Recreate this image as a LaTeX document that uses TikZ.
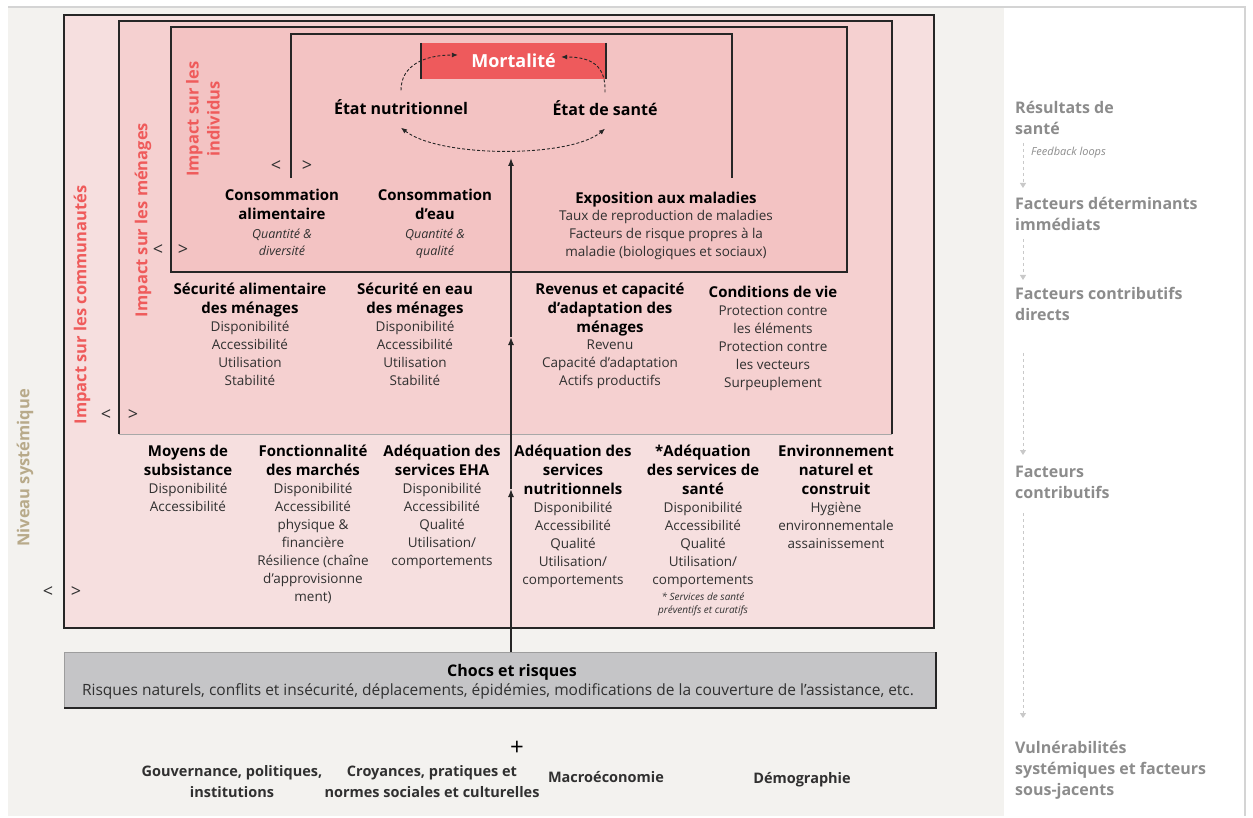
\documentclass[tikz,border=0pt]{standalone}
\usepackage{fontspec}
\setmainfont{Open Sans}
\usetikzlibrary{arrows.meta, positioning}

\definecolor{bggrey}{HTML}{F3F2EF}
\definecolor{framegrey}{HTML}{D4D4D4}
\definecolor{commfill}{HTML}{F6DFDF}
\definecolor{menfill}{HTML}{F5D0D0}
\definecolor{indfill}{HTML}{F3C3C3}
\definecolor{mortred}{HTML}{EE5A5C}
\definecolor{impactred}{HTML}{EF5B5B}
\definecolor{systan}{HTML}{B8AA8A}
\definecolor{sidegrey}{HTML}{8C8C8C}
\definecolor{sidearrow}{HTML}{C9C9C9}
\definecolor{chocgrey}{HTML}{C5C5C7}
\definecolor{bodytext}{HTML}{303030}
\definecolor{inkdark}{HTML}{262626}

\newcommand{\hfnt}{\fontsize{15}{19}\selectfont\bfseries}
\newcommand{\lfnt}{\fontsize{13.5}{18}\selectfont}
\newcommand{\ifnt}{\fontsize{12.5}{17}\selectfont\itshape}
\newcommand{\sfnt}{\fontsize{16}{21}\selectfont\bfseries}

\begin{document}
\begin{tikzpicture}[x=1pt, y=-1pt, every node/.style={inner sep=0pt, align=center}]
  \tikzset{
    boxline/.style={draw=inkdark, line width=1.6pt},
    ttl/.style={font=\hfnt, anchor=north, execute at begin node=\strut, execute at end node=\strut},
    lst/.style={font=\lfnt, text=bodytext, execute at begin node=\strut},
    ilst/.style={font=\ifnt, text=bodytext, execute at begin node=\strut},
    impact/.style={font=\fontsize{16.5}{21}\selectfont\bfseries, text=impactred, rotate=90},
    chev/.style={font=\fontsize{18}{18}\selectfont, text=bodytext},
    side/.style={font=\sfnt, text=sidegrey, align=left, anchor=north west, execute at begin node=\strut, execute at end node=\strut},
    sidelink/.style={draw=sidearrow, dashed, line width=0.8pt, -{Triangle[length=5pt, width=6pt]}},
    loopline/.style={draw=inkdark, line width=0.9pt, dash pattern=on 3pt off 2pt},
    vline/.style={draw=inkdark, line width=1.3pt, -{Latex[length=8pt, width=6pt]}},
    basetxt/.style={font=\fontsize{14.5}{21}\selectfont\bfseries, text=bodytext, anchor=north, execute at begin node=\strut, execute at end node=\strut}
  }
  \useasboundingbox (0,0) rectangle (1253,818);

  % background
  \fill[bggrey] (8,8) rectangle (1004,816);
  \fill[white] (1004,8) rectangle (1245,816);
  \draw[framegrey, line width=2pt] (8,7) -- (1245,7) -- (1245,816);

  % nested levels
  \draw[boxline, fill=commfill] (64,15) rectangle (934,628);
  \fill[menfill] (119,21) rectangle (892,434);
  \draw[boxline] (119,434) -- (119,21) -- (892,21) -- (892,434);
  \draw[draw=inkdark!40, line width=1pt] (119,434) -- (892,434);
  \draw[boxline, fill=indfill] (171,27) rectangle (847,272);
  \draw[draw=inkdark, line width=1.2pt] (291,178) -- (291,34) -- (732,34) -- (732,178);

  % outcomes
  \node[fill=mortred, minimum width=185pt, minimum height=36pt, font=\fontsize{18}{20}\selectfont\bfseries, text=white] (mort) at (513.5,61) {Mortalité};
  \draw[boxline] (mort.north west) -- (mort.south west);
  \draw[boxline] (mort.north east) -- (mort.south east);
  \node[font=\fontsize{16}{19}\selectfont\bfseries] (nut) at (401,107) {État nutritionnel};
  \node[font=\fontsize{16}{19}\selectfont\bfseries] (sante) at (605,108) {État de santé};
  \draw[loopline, -{Latex[length=6pt, width=5pt]}] ([yshift=9pt]nut.north) .. controls (401,65) and (425,55) .. ([xshift=37pt, yshift=6pt]mort.west);
  \draw[loopline, -{Latex[length=6pt, width=5pt]}] ([yshift=8pt]sante.north) .. controls (606,66) and (592,57) .. ([xshift=-45pt, yshift=4pt]mort.east);
  \draw[loopline, {Latex[length=6pt, width=5pt]}-{Latex[length=6pt, width=5pt]}] ([yshift=-13pt]nut.south) .. controls (440,158) and (570,158) .. ([yshift=-13pt]sante.south);

  % level markers
  \foreach \xl/\xr/\yy [count=\i] in {276/307/166, 158/183/250, 106/133/415, 48/76/592}{
    \node[chev] (lt\i) at (\xl,\yy) {<};
    \node[chev] (gt\i) at (\xr,\yy) {>};
  }

  % side labels of the levels
  \node[impact] (indiv) at (203,119) {Impact sur les\\individus};
  \node[impact] (menag) at (143,220) {Impact sur les ménages};
  \node[impact] (commu) at (82,305) {Impact sur les communautés};
  \node[impact, text=systan] (sys) at (25,468) {Niveau systémique};

  % immediate determinants
  \node[ttl] (consA) at (282,189) {Consommation\\alimentaire};
  \node[ilst, below=3pt of consA] (consAl) {Quantité \&\\diversité};
  \node[ttl] (consE) at (435,189) {Consommation\\d'eau};
  \node[ilst, below=3pt of consE] (consEl) {Quantité \&\\qualité};
  \node[ttl] (expo) at (666,190) {Exposition aux maladies};
  \node[lst, below=1pt of expo] (expol) {Taux de reproduction de maladies\\Facteurs de risque propres à la\\maladie (biologiques et sociaux)};

  % households
  \node[ttl] (secA) at (250,283) {Sécurité alimentaire\\des ménages};
  \node[lst, below=1.5pt of secA] (secAl) {Disponibilité\\Accessibilité\\Utilisation\\Stabilité};
  \node[ttl] (secE) at (415,283) {Sécurité en eau\\des ménages};
  \node[lst, below=1.5pt of secE] (secEl) {Disponibilité\\Accessibilité\\Utilisation\\Stabilité};
  \node[ttl] (rev) at (610,283) {Revenus et capacité\\d'adaptation des\\ménages};
  \node[lst, below=1.5pt of rev] (revl) {Revenu\\Capacité d'adaptation\\Actifs productifs};
  \node[ttl] (cond) at (773,284) {Conditions de vie};
  \node[lst, below=1.5pt of cond] (condl) {Protection contre\\les éléments\\Protection contre\\les vecteurs\\Surpeuplement};

  % communities
  \node[ttl] (moy) at (188,445) {Moyens de\\subsistance};
  \node[lst, below=1.5pt of moy] (moyl) {Disponibilité\\Accessibilité};
  \node[ttl] (marc) at (313,445) {Fonctionnalité\\des marchés};
  \node[lst, below=1.5pt of marc] (marcl) {Disponibilité\\Accessibilité\\physique \&\\financière\\Résilience (chaîne\\d'approvisionne\\ment)};
  \node[ttl] (eha) at (442,445) {Adéquation des\\services EHA};
  \node[lst, below=1.5pt of eha] (ehal) {Disponibilité\\Accessibilité\\Qualité\\Utilisation/\\comportements};
  \node[ttl] (nutr) at (573,445) {Adéquation des\\services\\nutritionnels};
  \node[lst, below=1.5pt of nutr] (nutrl) {Disponibilité\\Accessibilité\\Qualité\\Utilisation/\\comportements};
  \node[ttl] (sant) at (703,445) {*Adéquation\\des services de\\santé};
  \node[lst, below=1.5pt of sant] (santl) {Disponibilité\\Accessibilité\\Qualité\\Utilisation/\\comportements};
  \node[font=\fontsize{10}{13.5}\selectfont\itshape, text=bodytext, below=2pt of santl] (santn) {* Services de santé\\préventifs et curatifs};
  \node[ttl] (env) at (836,445) {Environnement\\naturel et\\construit};
  \node[lst, below=1.5pt of env] (envl) {Hygiène\\environnementale\\assainissement};

  % shocks
  \node[fill=chocgrey, draw=inkdark!45, line width=0.8pt, minimum width=871pt, minimum height=55pt, anchor=north west] (chocs) at (64,652) {};
  \draw[boxline] (chocs.south west) -- (chocs.south east) -- (chocs.north east);
  \node[font=\fontsize{16}{20}\selectfont\bfseries, anchor=north, execute at begin node=\strut] (chocT) at (512,662) {Chocs et risques};
  \node[lst, font=\fontsize{15.5}{18}\selectfont, below=0.5pt of chocT, xshift=-14pt] (chocL) {Risques naturels, conflits et insécurité, déplacements, épidémies, modifications de la couverture de l'assistance, etc.};
  \coordinate (looptop) at (511,158);
  \coordinate (arrowB) at (511,337);
  \coordinate (arrowA) at (511,489);
  \draw[vline] (chocs.north -| looptop) -- (arrowA);
  \draw[vline] (arrowA) -- (arrowB);
  \draw[vline] (arrowB) -- (looptop);

  % underlying factors
  \node[font=\fontsize{24}{24}\selectfont] (plus) at (517,748) {+};
  \node[basetxt] (gouv) at (232,765) {Gouvernance, politiques,\\institutions};
  \node[basetxt] (croy) at (432,765) {Croyances, pratiques et\\normes sociales et culturelles};
  \node[basetxt] (macro) at (606,768) {Macroéconomie};
  \node[basetxt] (demo) at (802,769) {Démographie};

  % right column
  \node[side] (res) at (1015,101) {Résultats de\\santé};
  \node[font=\fontsize{11}{13}\selectfont\itshape, text=sidegrey, anchor=west] (fb) at (1031,153) {Feedback loops};
  \node[side] (imm) at (1015,197) {Facteurs déterminants\\immédiats};
  \node[side] (dir) at (1015,287) {Facteurs contributifs\\directs};
  \node[side] (contr) at (1015,466) {Facteurs\\contributifs};
  \node[side] (vuln) at (1015,741) {Vulnérabilités\\systémiques et facteurs\\sous-jacents};
  \draw[sidelink] ([shift={(8,2)}]res.south west) -- ([shift={(8,-9)}]imm.north west);
  \draw[sidelink] ([shift={(8,2)}]imm.south west) -- ([shift={(8,-7)}]dir.north west);
  \draw[sidelink] ([shift={(8,26)}]dir.south west) -- ([shift={(8,-11)}]contr.north west);
  \draw[sidelink] ([shift={(8,8)}]contr.south west) -- ([shift={(8,-23)}]vuln.north west);
\end{tikzpicture}
\end{document}
